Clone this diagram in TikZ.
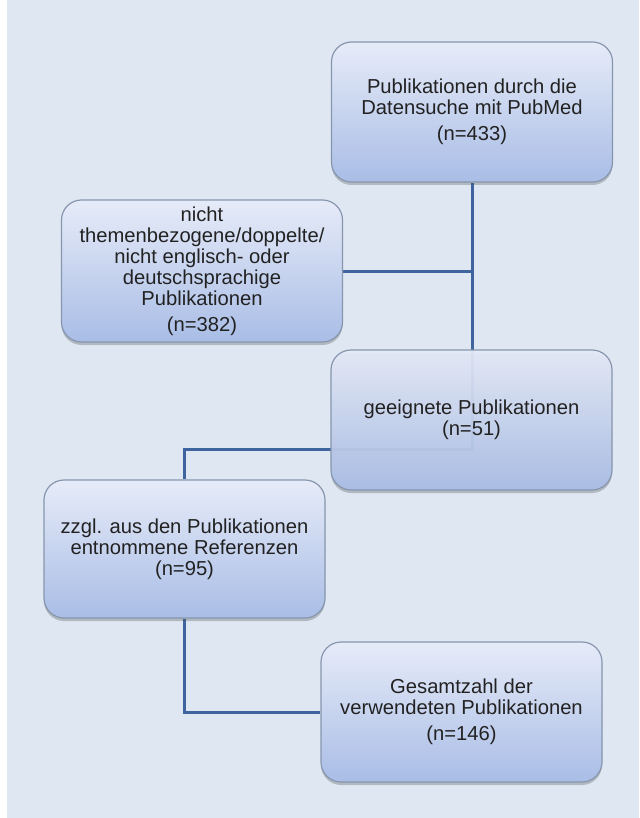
\documentclass[tikz,border=0pt]{standalone}
\usepackage{fontspec}
\setmainfont{Liberation Sans}
\usetikzlibrary{shadows}

\definecolor{paneblue}{HTML}{DFE8F2}
\definecolor{boxtop}{HTML}{E6EBF8}
\definecolor{boxbottom}{HTML}{A9BDE6}
\definecolor{boxrim}{HTML}{8796AE}
\definecolor{wireblue}{HTML}{3E65A0}
\definecolor{inkgray}{HTML}{222222}

\pgfdeclarelayer{backdrop}
\pgfdeclarelayer{wires}
\pgfsetlayers{backdrop,wires,main}

\tikzset{
    stagebox/.style={
        draw=boxrim, line width=1.2pt, rounded corners=20pt,
        top color=boxtop, bottom color=boxbottom,
        minimum width=281pt, minimum height=140pt,
        align=center, text=inkgray,
        font=\fontsize{20.2}{21}\selectfont,
        drop shadow={shadow xshift=0pt, shadow yshift=-3pt, opacity=0.3, fill=black!70}
    },
    wire/.style={draw=wireblue, line width=3pt}
}

\begin{document}
\begin{tikzpicture}[x=1pt, y=-1pt]
            \def\gap{5pt}

            \begin{pgfonlayer}{backdrop}
                \fill[white] (0, 0) rectangle (639, 818);
                \fill[paneblue] (7, 0) rectangle (639, 818);
            \end{pgfonlayer}
            \useasboundingbox (0, 0) rectangle (639, 818);

            \node[stagebox] (pubmed) at (472, 112)
                {Publikationen durch die\\Datensuche mit PubMed\\[\gap](n=433)};
            \node[stagebox, minimum height=142pt] (excluded) at (202, 271)
                {nicht\\themenbezogene/doppelte/\\nicht englisch- oder\\deutschsprachige\\Publikationen\\[\gap](n=382)};
            \node[stagebox, fill opacity=0.93, text opacity=1] (suitable) at (471.5, 420)
                {geeignete Publikationen\\(n=51)};
            \node[stagebox, minimum height=138pt] (references) at (184.5, 549)
                {zzgl. aus den Publikationen\\entnommene Referenzen\\(n=95)};
            \node[stagebox] (total) at (461.5, 712)
                {Gesamtzahl der\\verwendeten Publikationen\\[\gap](n=146)};

            \coordinate (turn) at (472, 449);

            \begin{pgfonlayer}{wires}
                \draw[wire] (pubmed.south) -- (turn) -| (references.north);
                \draw[wire] (excluded.east) -- (excluded.east -| pubmed.south);
                \draw[wire] (references.south) |- (total.west);
            \end{pgfonlayer}
        \end{tikzpicture}
\end{document}
